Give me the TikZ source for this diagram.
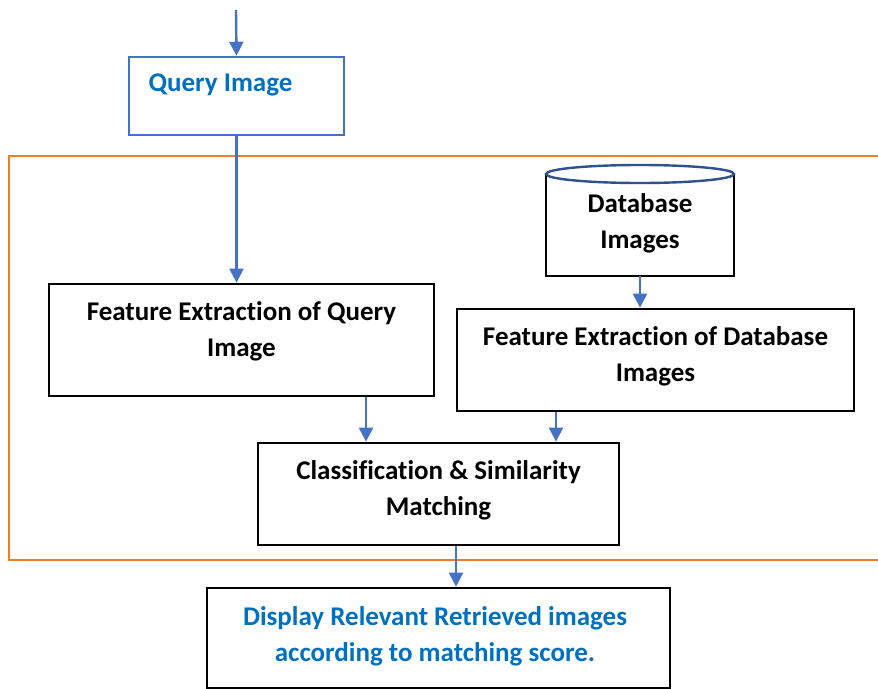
\documentclass[tikz,border=0pt]{standalone}
\usepackage{fontspec}
\setmainfont{Carlito}[Ligatures=NoCommon]
\usetikzlibrary{arrows.meta,shapes.geometric}
\definecolor{arrowblue}{HTML}{4472C4}
\definecolor{textblue}{HTML}{0070C0}
\definecolor{frameorange}{HTML}{ED7D31}
\definecolor{dbblue}{HTML}{2F528F}
\tikzset{
  box/.style={draw=black, line width=2.8pt, fill=white, inner sep=0pt},
  qbox/.style={draw=arrowblue, line width=2.5pt, fill=white, inner sep=0pt},
  txt/.style={font=\fontsize{27}{36}\selectfont\bfseries, align=center, inner sep=0pt},
  btxt/.style={txt, text=textblue},
  arr/.style={draw=arrowblue, line width=2.4pt, -{Triangle[length=14pt,width=14pt]}},
}
\begin{document}
\begin{tikzpicture}[x=1pt,y=-1pt]
\useasboundingbox (0,0) rectangle (878,688);
% orange frame
\draw[frameorange, line width=2.8pt] (895,156) -- (9,156) -- (9,560) -- (895,560);
% query image
\node[qbox, minimum width=215pt, minimum height=78pt] (q) at (236.5,96) {};
\node[btxt] (qt) at (220.5,85) {Query Image};
\coordinate (top) at (236,10);
\draw[arr] (top) -- (q.north);
% feature extraction query
\node[box, minimum width=385pt, minimum height=112pt] (fq) at (241.5,340) {};
\node[txt] (fqt) at (241.5,331) {Feature Extraction of Query\\Image};
\draw[arr] (q.south) -- (q.south |- fq.north);
% database cylinder
\draw[black, line width=2.8pt, fill=white] (546,174) -- (546,276) -- (734,276) -- (734,174);
\node[draw=dbblue, line width=2.4pt, fill=white, ellipse, minimum width=188pt, minimum height=18pt, inner sep=0pt] (dbtop) at (640,174) {};
\coordinate (db) at (640,276);
\node[txt] (dbt) at (640,223) {Database\\Images};
% feature extraction database
\node[box, minimum width=397pt, minimum height=102pt] (fd) at (655.5,360) {};
\node[txt] (fdt) at (655.5,356) {Feature Extraction of Database\\Images};
\draw[arr] (db) -- (db |- fd.north);
% classification
\node[box, minimum width=361pt, minimum height=102pt] (cl) at (438.5,494) {};
\node[txt] (clt) at (438.5,490) {Classification \& Similarity\\Matching};
\draw[arr] (366,0 |- fq.south) -- (366,0 |- cl.north);
\draw[arr] (556,0 |- fd.south) -- (556,0 |- cl.north);
% display
\node[box, minimum width=463pt, minimum height=100pt] (dp) at (438.5,638) {};
\node[btxt] (dpt) at (435,636) {Display Relevant Retrieved images\\according to matching score.};
\draw[arr] (456,0 |- cl.south) -- (456,0 |- dp.north);
\end{tikzpicture}
\end{document}
